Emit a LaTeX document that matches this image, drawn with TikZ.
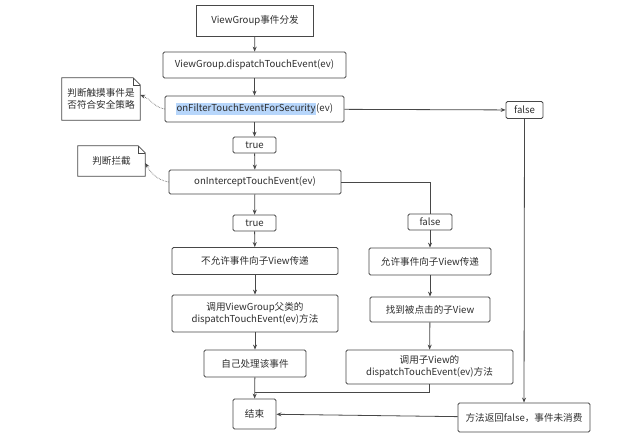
\documentclass[tikz,border=0pt]{standalone}
\usepackage{fontspec}
\setmainfont{Noto Sans CJK SC}
\usetikzlibrary{arrows.meta}

\definecolor{linegray}{HTML}{484848}
\definecolor{textgray}{HTML}{2E2E2E}
\definecolor{selblue}{HTML}{B7D6FB}

\tikzset{
	box/.style={draw=linegray, line width=0.8pt, rounded corners=1.5pt, align=center,
		inner sep=0pt, text=textgray, font=\fontsize{9.6}{12}\selectfont},
	note/.style={inner sep=0pt, align=center, text=textgray, font=\fontsize{9.6}{12}\selectfont},
	flow/.style={draw=linegray, line width=0.8pt, -{Stealth[length=5pt,width=4pt]}},
	link/.style={draw=linegray, line width=0.8pt},
	hint/.style={draw=linegray, line width=0.6pt, densely dotted, -{Stealth[length=5pt,width=4pt]}},
}

\newcommand{\dogear}[1]{%
	\draw[linegray, line width=0.8pt] (#1.north west) -- ([xshift=-7pt]#1.north east)
		-- ([yshift=-7pt]#1.north east) -- (#1.south east) -- (#1.south west) -- cycle;
	\draw[linegray, line width=0.6pt] ([xshift=-7pt]#1.north east) -- ([xshift=-7pt,yshift=-7pt]#1.north east)
		-- ([yshift=-7pt]#1.north east);}

\begin{document}
\begin{tikzpicture}[x=1pt, y=-1pt]
	\useasboundingbox[fill=white] (0,0) rectangle (631,439);
	% main column
	\node[box, rounded corners=0pt, minimum width=117pt, minimum height=31pt] (start) at (255,20.5) {ViewGroup事件分发};
	\node[box, minimum width=183pt, minimum height=26pt] (dispatch) at (254.5,65) {ViewGroup.dispatchTouchEvent(ev)};
	\node[box, minimum width=179pt, minimum height=26pt] (filter) at (254.5,109)
		{\setlength{\fboxsep}{0.6pt}\colorbox{selblue}{onFilterTouchEventForSecurity}(ev)};
	\node[box, minimum width=43pt, minimum height=16pt] (true1) at (254.5,145) {true};
	\node[box, minimum width=172pt, minimum height=24pt] (intercept) at (255,182) {onInterceptTouchEvent(ev)};
	\node[box, minimum width=43pt, minimum height=16pt] (true2) at (254.5,223) {true};
	\node[box, minimum width=166pt, minimum height=27pt] (block) at (255,261) {不允许事件向子View传递};
	\node[box, minimum width=166pt, minimum height=37pt] (super) at (255,313.5) {调用ViewGroup父类的\\dispatchTouchEvent(ev)方法};
	\node[box, minimum width=102pt, minimum height=27pt] (self) at (255,363.5) {自己处理该事件};
	\node[box, minimum width=43pt, minimum height=30pt] (stop) at (254.5,414) {结束};
	% right column
	\node[box, minimum width=44pt, minimum height=16pt] (false2) at (430,222) {false};
	\node[box, minimum width=122pt, minimum height=27pt] (allow) at (430,261.5) {允许事件向子View传递};
	\node[box, minimum width=120pt, minimum height=25pt] (find) at (430,309.5) {找到被点击的子View};
	\node[box, minimum width=167pt, minimum height=34pt] (child) at (429.5,367) {调用子View的\\dispatchTouchEvent(ev)方法};
	\node[box, minimum width=37pt, minimum height=17pt] (false1) at (524.5,110) {false};
	\node[box, minimum width=132pt, minimum height=29pt] (unused) at (524,417.5) {方法返回false，事件未消费};
	% notes
	\node[note, minimum width=78pt, minimum height=42pt] (safety) at (101,99) {判断触摸事件是\\否符合安全策略};
	\node[note, minimum width=67pt, minimum height=30pt] (judge) at (111.5,161) {判断拦截};
	\dogear{safety}
	\dogear{judge}
	\coordinate (merge) at (255,392);
	% connectors
	\draw[flow] (start) -- (dispatch);
	\draw[flow] (dispatch) -- (filter);
	\draw[flow] (filter) -- (true1);
	\draw[flow] (true1) -- (intercept);
	\draw[flow] (intercept) -- (true2);
	\draw[flow] (true2) -- (block);
	\draw[flow] (block) -- (super);
	\draw[flow] (super) -- (self);
	\draw[flow] (self) -- (stop);
	\draw[flow] (filter) -- (false1);
	\draw[flow] (false1) -- (unused);
	\draw[flow] (unused) -- (stop);
	\draw[link] (intercept.east) -| (false2.north);
	\draw[flow] (false2) -- (allow);
	\draw[flow] (allow) -- (find);
	\draw[flow] (find) -- (child);
	\draw[link] (child.south) |- (merge);
	\draw[hint] (filter.west) to[out=170, in=-20] ([yshift=4pt]safety.east);
	\draw[hint] (intercept.west) to[out=170, in=-60] ([yshift=-2pt]judge.east);
\end{tikzpicture}
\end{document}
